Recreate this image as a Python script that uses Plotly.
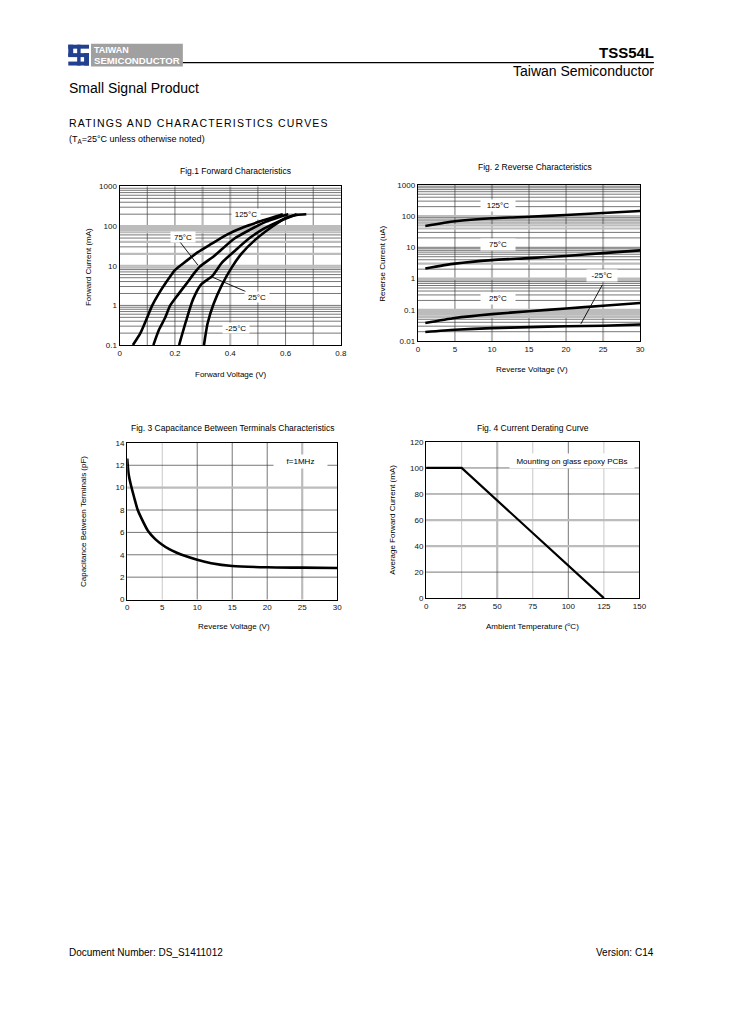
import math
import plotly.graph_objects as go

W, H = 729, 1032
# the page body keeps its default 8px margin; positions below are page pixels
OFF = 8

# ---------------- data ----------------
# Fig.1 Forward characteristics: forward voltage (V) vs forward current (mA)
fwd_labels = ["125°C", "75°C", "25°C", "-25°C"]
vf_125 = [0.048, 0.075, 0.097, 0.118, 0.14, 0.17, 0.2, 0.24, 0.283, 0.33, 0.39, 0.45, 0.52, 0.59]
if_125 = [0.1, 0.2, 0.45, 1, 1.9, 4, 7.8, 13, 22, 35, 62, 95, 140, 200]
vf_75 = [0.122, 0.143, 0.164, 0.183, 0.212, 0.245, 0.272, 0.29, 0.343, 0.414, 0.47, 0.53, 0.61]
if_75 = [0.1, 0.25, 0.48, 1, 1.9, 3.8, 6.8, 9.5, 18, 48, 80, 130, 200]
vf_25 = [0.215, 0.24, 0.265, 0.295, 0.335, 0.37, 0.42, 0.47, 0.52, 0.58, 0.64]
if_25 = [0.1, 0.4, 1.4, 3.4, 5.5, 12, 25, 50, 85, 135, 200]
vf_m25 = [0.305, 0.318, 0.34, 0.37, 0.405, 0.44, 0.49, 0.55, 0.6, 0.64, 0.675]
if_m25 = [0.1, 0.35, 1.1, 3.3, 9, 20, 45, 95, 160, 192, 200]

# Fig.2 Reverse characteristics: reverse voltage (V) vs reverse current (uA)
rev_labels = ["125°C", "75°C", "25°C", "-25°C"]
vr = [1, 5, 10, 15, 20, 25, 30]
ir_125 = [48, 68, 85, 95, 108, 125, 145]
ir_75 = [2.1, 3.0, 3.9, 4.5, 5.3, 6.5, 8.0]
ir_25 = [0.038, 0.055, 0.073, 0.09, 0.11, 0.135, 0.165]
ir_m25 = [0.0195, 0.023, 0.026, 0.028, 0.030, 0.031, 0.034]

# Fig.3 Capacitance between terminals: reverse voltage (V) vs capacitance (pF)
vr_cap = [0, 0.2, 0.5, 1, 1.5, 2, 3, 4, 5, 6, 7, 8, 10, 12, 15, 20, 25, 30]
cap_pf = [12.6, 11.2, 10.3, 9.1, 8.0, 7.3, 6.1, 5.4, 4.9, 4.5, 4.2, 3.95, 3.55, 3.25, 3.0, 2.88, 2.85, 2.82]

# Fig.4 Current derating: ambient temperature (C) vs average forward current (mA)
temp_c = [0, 25, 125]
if_avg = [100, 100, 0]

# tick labels
fig1_xticks = [0, 0.2, 0.4, 0.6, 0.8]
fig1_xtext = ["0", "0.2", "0.4", "0.6", "0.8"]
fig1_yticks = [0.1, 1, 10, 100, 1000]
fig1_ytext = ["0.1", "1", "10", "100", "1000"]
fig2_xticks = [0, 5, 10, 15, 20, 25, 30]
fig2_yticks = [0.01, 0.1, 1, 10, 100, 1000]
fig2_ytext = ["0.01", "0.1", "1", "10", "100", "1000"]
fig3_xticks = [0, 5, 10, 15, 20, 25, 30]
fig3_yticks = [0, 2, 4, 6, 8, 10, 12, 14]
fig4_xticks = [0, 25, 50, 75, 100, 125, 150]
fig4_yticks = [0, 20, 40, 60, 80, 100, 120]

FONT = "Liberation Sans, Arial, sans-serif"


def px(x):
    return (x - OFF) / W


def py(y):
    return 1 - (y - OFF) / H


fig = go.Figure()

curve = dict(color="black", width=2.6)
# Fig 1
for xs, ys in [(vf_125, if_125), (vf_75, if_75), (vf_25, if_25), (vf_m25, if_m25)]:
    fig.add_trace(go.Scatter(x=xs, y=ys, mode="lines", line=dict(shape="spline", smoothing=0.6, **curve),
                             xaxis="x", yaxis="y", showlegend=False, hoverinfo="skip"))
# Fig 2
for ys in [ir_125, ir_75, ir_25, ir_m25]:
    fig.add_trace(go.Scatter(x=vr, y=ys, mode="lines", line=dict(shape="spline", smoothing=0.6, **curve),
                             xaxis="x2", yaxis="y2", showlegend=False, hoverinfo="skip"))
# Fig 3
fig.add_trace(go.Scatter(x=vr_cap, y=cap_pf, mode="lines", line=dict(shape="spline", smoothing=0.7, **curve),
                         xaxis="x3", yaxis="y3", showlegend=False, hoverinfo="skip"))
# Fig 4
fig.add_trace(go.Scatter(x=temp_c, y=if_avg, mode="lines", line=dict(color="black", width=2.2),
                         xaxis="x4", yaxis="y4", showlegend=False, hoverinfo="skip"))

# leader lines
thin = dict(color="black", width=0.9)
fig.add_trace(go.Scatter(x=[0.218, 0.283], y=[40, 10.4], mode="lines", line=thin,
                         xaxis="x", yaxis="y", showlegend=False, hoverinfo="skip"))
fig.add_trace(go.Scatter(x=[0.337, 0.456], y=[5.1, 2.24], mode="lines", line=thin,
                         xaxis="x", yaxis="y", showlegend=False, hoverinfo="skip"))
fig.add_trace(go.Scatter(x=[24.9, 22.0], y=[0.63, 0.0355], mode="lines", line=thin,
                         xaxis="x2", yaxis="y2", showlegend=False, hoverinfo="skip"))

tickfont = dict(family=FONT, size=8, color="#111")
base_axis = dict(showline=True, linecolor="black", linewidth=1.3, mirror=True, ticks="",
                 showgrid=False, zeroline=False, tickfont=tickfont, fixedrange=True)

layout_axes = dict(
    xaxis=dict(base_axis, domain=[px(119), px(343)], range=[0, 0.8], anchor="y",
               tickvals=fig1_xticks, ticktext=fig1_xtext),
    yaxis=dict(base_axis, domain=[py(344), py(184)], type="log", range=[-1, 3], anchor="x",
               tickvals=fig1_yticks, ticktext=fig1_ytext),
    xaxis2=dict(base_axis, domain=[px(421), px(646)], range=[0, 30], anchor="y2",
                tickvals=fig2_xticks),
    yaxis2=dict(base_axis, domain=[py(340), py(182.3)], type="log", range=[-2, 3], anchor="x2",
                tickvals=fig2_yticks, ticktext=fig2_ytext),
    xaxis3=dict(base_axis, domain=[px(126.7), px(339.3)], range=[0, 30], anchor="y3",
                tickvals=fig3_xticks),
    yaxis3=dict(base_axis, domain=[py(600.7), py(442.7)], range=[0, 14], anchor="x3",
                tickvals=fig3_yticks),
    xaxis4=dict(base_axis, domain=[px(429.3), px(645.3)], range=[0, 150], anchor="y4",
                tickvals=fig4_xticks),
    yaxis4=dict(base_axis, domain=[py(599.3), py(441.7)], range=[0, 120], anchor="x4",
                tickvals=fig4_yticks),
)

shapes = []
DARK = "#3c3c3c"
GRAY = "#bcbcbc"
LIGHT = "#c8c8c8"


def style(v, gray, light):
    if any(abs(v - g) < 1e-9 * max(1, abs(g)) for g in gray):
        return GRAY, 2.2
    if any(abs(v - g) < 1e-9 * max(1, abs(g)) for g in light):
        return LIGHT, 1.0
    return DARK, 0.7


def vgrid(xa, ya, vals, gray=(), light=()):
    for v in vals:
        c, w = style(v, gray, light)
        shapes.append(dict(type="line", xref=xa, yref=ya + " domain", x0=v, x1=v, y0=0, y1=1,
                           line=dict(color=c, width=w), layer="below"))


def hgrid(xa, ya, vals, gray=(), light=(), log_range=None):
    for v in vals:
        c, w = style(v, gray, light)
        if log_range:
            lo, hi = log_range
            f = (math.log10(v) - lo) / (hi - lo)
            shapes.append(dict(type="line", xref=xa + " domain", yref=ya + " domain", x0=0, x1=1, y0=f, y1=f,
                               line=dict(color=c, width=w), layer="below"))
        else:
            shapes.append(dict(type="line", xref=xa + " domain", yref=ya, x0=0, x1=1, y0=v, y1=v,
                               line=dict(color=c, width=w), layer="below"))


def log_lines(lo, hi):
    out = []
    for e in range(lo, hi):
        for k in range(1, 10):
            out.append(k * 10.0 ** e)
    return out[1:]


# Fig 1 grid
vgrid("x", "y", [0.1, 0.2, 0.3, 0.4, 0.5, 0.6, 0.7], gray=[0.3, 0.4])
hgrid("x", "y", log_lines(-1, 3), gray=[9, 10, 20, 40, 70, 80, 90, 100], log_range=(-1, 3))
# Fig 2 grid
vgrid("x2", "y2", [5, 10, 15, 20, 25], gray=[10, 25])
hgrid("x2", "y2", log_lines(-2, 3), gray=[0.06, 0.07, 0.08, 0.09, 0.1, 1, 3, 40, 50, 100], log_range=(-2, 3))
# Fig 3 grid
vgrid("x3", "y3", [5, 10, 15, 20, 25], gray=[25], light=[5])
hgrid("x3", "y3", [2, 4, 6, 8, 10, 12], gray=[10])
# Fig 4 grid
vgrid("x4", "y4", [25, 50, 75, 100, 125], gray=[50], light=[25, 75, 125])
hgrid("x4", "y4", [20, 40, 60, 80, 100], gray=[40, 60])

# ---- logo ----
BLUE = "#22408f"


def rect(x0, y0, x1, y1, color):
    shapes.append(dict(type="rect", xref="paper", yref="paper", x0=px(x0), x1=px(x1), y0=py(y1), y1=py(y0),
                       fillcolor=color, line=dict(width=0)))


rect(67, 41, 88, 45, BLUE)
rect(67, 41, 72, 53, BLUE)
rect(67, 49.5, 88, 53.5, BLUE)
rect(83, 49.5, 88, 62, BLUE)
rect(67, 58, 88, 62, BLUE)
rect(76, 41, 79.5, 62, BLUE)
rect(90, 40, 183, 63, "#a0a0a0")
shapes.append(dict(type="line", xref="paper", yref="paper", x0=px(183), x1=px(660), y0=py(59), y1=py(59),
                   line=dict(color="black", width=1.2)))

annotations = []


def text(x, y, s, size, xanchor="left", color="black", bold=False, family=FONT, textangle=0):
    if bold:
        s = "<b>" + s + "</b>"
    annotations.append(dict(x=px(x), y=py(y), xref="paper", yref="paper", text=s, showarrow=False,
                            xanchor=xanchor, yanchor="middle", textangle=textangle,
                            font=dict(family=family, size=size, color=color)))


text(91, 46.5, "TAIWAN", 9, bold=True, color="white")
text(91, 57, "SEMICONDUCTOR", 9.6, bold=True, color="white")
text(662, 49, "TSS54L", 15, xanchor="right", bold=True)
text(662, 68, "Taiwan Semiconductor", 14, xanchor="right")
text(66, 85, "Small Signal Product", 14)
text(66, 120, "<span style='letter-spacing:1.2px'>RATINGS AND CHARACTERISTICS CURVES</span>", 10.5)
text(66, 137, "(T<sub>A</sub>=25°C unless otherwise noted)", 9)
text(66, 957, "Document Number: DS_S1411012", 10)
text(662, 957, "Version: C14", 10, xanchor="right")

# chart titles
text(236.7, 168, "Fig.1 Forward Characteristics", 8.5, xanchor="center")
text(540, 164.5, "Fig. 2 Reverse Characteristics", 8.5, xanchor="center")
text(233, 427.5, "Fig. 3 Capacitance Between Terminals Characteristics", 8.5, xanchor="center")
text(538, 427.5, "Fig. 4 Current Derating Curve", 8.5, xanchor="center")

# axis titles
text(231.7, 373.3, "Forward Voltage (V)", 8, xanchor="center")
text(87.3, 265, "Forward Current (mA)", 8, xanchor="center", textangle=-90)
text(536.7, 368.3, "Reverse Voltage (V)", 8, xanchor="center")
text(385, 261.7, "Reverse Current (uA)", 8, xanchor="center", textangle=-90)
text(235, 627.5, "Reverse Voltage (V)", 8, xanchor="center")
text(81.7, 521.7, "Capacitance Between Terminals (pF)", 8, xanchor="center", textangle=-90)
text(536.7, 627.5, "Ambient Temperature (<sup>o</sup>C)", 8, xanchor="center")
text(395, 520, "Average Forward Current (mA)", 8, xanchor="center", textangle=-90)


def label(xa, ya, x, y, s, w, h=10):
    annotations.append(dict(x=x, y=y, xref=xa, yref=ya, text=s, showarrow=False, bgcolor="white",
                            width=w, height=h, borderpad=0, align="center",
                            font=dict(family=FONT, size=8, color="black")))


label("x", "y", 0.456, 2.31, fwd_labels[0], 28)
label("x", "y", 0.2275, 1.725, fwd_labels[1], 24)
label("x", "y", 0.4975, 0.21, fwd_labels[2], 24)
label("x", "y", 0.42, -0.567, fwd_labels[3], 26)
label("x2", "y2", 10.8, 2.334, rev_labels[0], 34, 11)
label("x2", "y2", 10.8, 1.087, rev_labels[1], 34, 11)
label("x2", "y2", 10.8, -0.626, rev_labels[2], 34, 11)
label("x2", "y2", 24.9, 0.114, rev_labels[3], 30, 11)
label("x3", "y3", 24.7, 12.3, "f=1MHz", 53, 13)
label("x4", "y4", 102.4, 105.3, "Mounting on glass epoxy PCBs", 124, 14)

fig.update_layout(
    width=W, height=H, margin=dict(l=0, r=0, t=0, b=0),
    paper_bgcolor="white", plot_bgcolor="white",
    shapes=shapes, annotations=annotations, showlegend=False,
    font=dict(family=FONT, size=8, color="black"),
    **layout_axes,
)

fig.write_html("out.html", config={"displayModeBar": False})
